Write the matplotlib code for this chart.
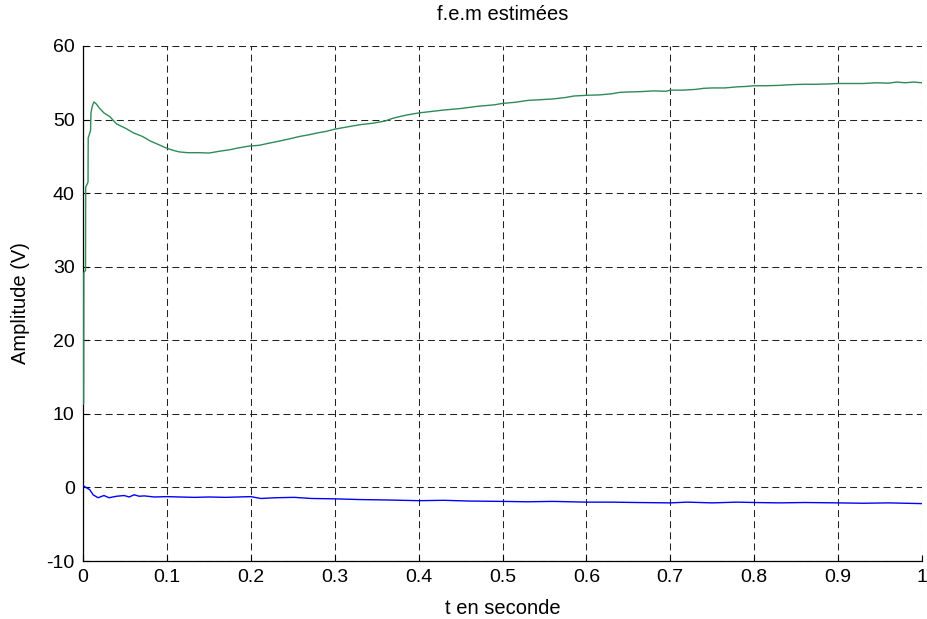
import matplotlib
matplotlib.use("Agg")
import matplotlib.pyplot as plt

plt.rcParams['font.family'] = ['Liberation Sans', 'DejaVu Sans']
plt.rcParams['lines.scale_dashes'] = False

title = "f.e.m estimées"
xlabel = "t en seconde"
ylabel = "Amplitude (V)"
xticks = [0, 0.1, 0.2, 0.3, 0.4, 0.5, 0.6, 0.7, 0.8, 0.9, 1]
xticklabels = ["0", "0.1", "0.2", "0.3", "0.4", "0.5", "0.6", "0.7", "0.8", "0.9", "1"]
yticks = [-10, 0, 10, 20, 30, 40, 50, 60]
yticklabels = ["-10", "0", "10", "20", "30", "40", "50", "60"]

# green estimated emf
t_green = [0.000, 0.0008, 0.001, 0.003, 0.0032, 0.006, 0.0062, 0.009, 0.0095, 0.011,
           0.013, 0.016, 0.020, 0.025, 0.032, 0.040, 0.051, 0.060, 0.071, 0.080,
           0.090, 0.100, 0.108, 0.115, 0.125, 0.139, 0.150, 0.163, 0.175, 0.183,
           0.198, 0.210, 0.222, 0.235, 0.247, 0.258, 0.270, 0.280, 0.290, 0.300,
           0.315, 0.330, 0.345, 0.360, 0.370, 0.385, 0.400, 0.415, 0.430, 0.450,
           0.470, 0.490, 0.500, 0.515, 0.530, 0.545, 0.560, 0.575, 0.585, 0.600,
           0.615, 0.630, 0.640, 0.650, 0.665, 0.680, 0.695, 0.700, 0.715, 0.730,
           0.740, 0.750, 0.765, 0.780, 0.790, 0.800, 0.815, 0.830, 0.845, 0.860,
           0.875, 0.890, 0.900, 0.915, 0.930, 0.945, 0.960, 0.970, 0.980, 0.990, 1.000]
v_green = [11.3, 11.5, 29.2, 29.5, 40.8, 41.5, 47.5, 48.5, 50.9, 51.8,
           52.4, 52.1, 51.5, 50.9, 50.4, 49.4, 48.8, 48.2, 47.7, 47.1,
           46.6, 46.1, 45.8, 45.6, 45.5, 45.5, 45.45, 45.7, 45.9, 46.1,
           46.4, 46.5, 46.8, 47.1, 47.4, 47.7, 47.95, 48.2, 48.4, 48.7,
           49.0, 49.3, 49.5, 49.8, 50.2, 50.6, 50.9, 51.1, 51.3, 51.5,
           51.8, 52.0, 52.2, 52.35, 52.6, 52.7, 52.8, 53.0, 53.2, 53.3,
           53.35, 53.5, 53.7, 53.75, 53.8, 53.9, 53.85, 54.0, 54.0, 54.1,
           54.25, 54.3, 54.3, 54.45, 54.5, 54.6, 54.6, 54.65, 54.75, 54.8,
           54.8, 54.85, 54.9, 54.9, 54.9, 55.0, 54.95, 55.1, 55.0, 55.1, 55.0]

# blue estimated emf
t_blue = [0.000, 0.002, 0.008, 0.012, 0.018, 0.025, 0.031, 0.040, 0.049, 0.055,
          0.061, 0.067, 0.073, 0.085, 0.100, 0.115, 0.133, 0.150, 0.170, 0.185,
          0.200, 0.212, 0.230, 0.252, 0.272, 0.300, 0.330, 0.360, 0.400, 0.430,
          0.460, 0.500, 0.530, 0.560, 0.600, 0.630, 0.660, 0.700, 0.720, 0.750,
          0.780, 0.800, 0.830, 0.860, 0.900, 0.930, 0.960, 1.000]
v_blue = [0.3, 0.1, -0.3, -1.0, -1.4, -1.1, -1.4, -1.2, -1.1, -1.3,
          -1.0, -1.2, -1.15, -1.3, -1.25, -1.3, -1.35, -1.3, -1.35, -1.3,
          -1.25, -1.5, -1.4, -1.35, -1.5, -1.55, -1.65, -1.7, -1.8, -1.75,
          -1.85, -1.9, -1.95, -1.9, -2.0, -2.0, -2.05, -2.1, -2.0, -2.1,
          -2.0, -2.05, -2.1, -2.05, -2.1, -2.15, -2.1, -2.2]

fig = plt.figure(figsize=(9.27, 6.19), dpi=100)
ax = fig.add_axes([83 / 927, 1 - 561 / 619, (922 - 83) / 927, (561 - 46) / 619])

ax.plot(t_green, v_green, color="#2e8b57", lw=1.0, zorder=3)
ax.plot(t_blue, v_blue, color="#0000ff", lw=1.0, zorder=3)

ax.set_xlim(0, 1)
ax.set_ylim(-10, 60)
ax.set_xticks(xticks)
ax.set_xticklabels(xticklabels)
ax.set_yticks(yticks)
ax.set_yticklabels(yticklabels)
ax.tick_params(direction="in", length=4, width=0.8, labelsize=14, pad=6, colors="black")

ax.grid(True, color="#222222", linestyle=(0, (5, 3)), linewidth=0.75, zorder=1)
ax.set_axisbelow(True)
for s in ["top", "right"]:
    ax.spines[s].set_visible(False)
for s in ["left", "bottom"]:
    ax.spines[s].set_color("black")
    ax.spines[s].set_linewidth(0.9)

fig.text(ax.get_position().x0 + ax.get_position().width / 2, 1 - 14 / 619, title,
         fontsize=14.5, ha="center", va="center")
ax.set_xlabel(xlabel, fontsize=14.5, labelpad=9)
ax.set_ylabel(ylabel, fontsize=14.5, labelpad=12)

fig.savefig("out.png", dpi=100)
